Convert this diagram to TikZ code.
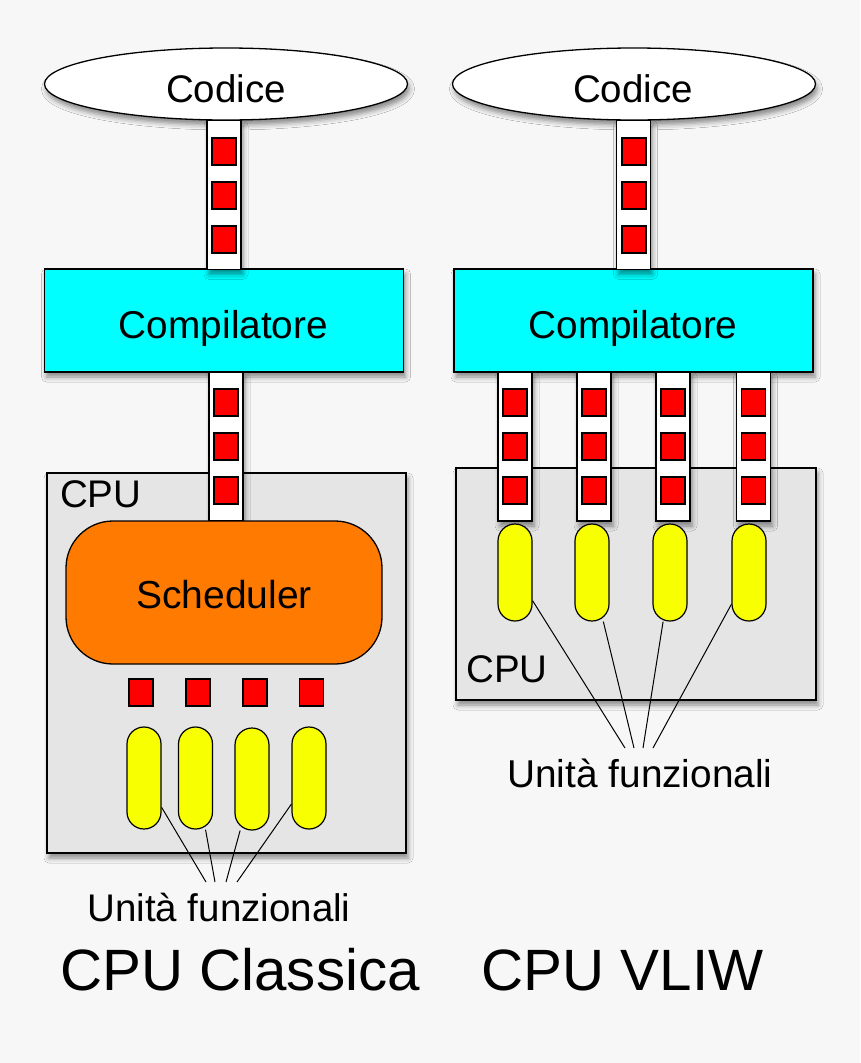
\documentclass[tikz,border=0pt]{standalone}
\usepackage{fontspec}
\setmainfont{Liberation Sans}
\usetikzlibrary{shapes.geometric,shadows.blur}
\definecolor{bgc}{HTML}{F7F7F7}
\definecolor{cpugray}{HTML}{E5E5E5}
\definecolor{cyanc}{HTML}{00FFFF}
\definecolor{orangec}{HTML}{FF7A00}
\definecolor{redc}{HTML}{FF0000}
\definecolor{yellowc}{HTML}{F8FF00}
\newcommand\myfs[1]{\fontsize{#1}{#1}\selectfont}
\tikzset{
  shad/.style={blur shadow={shadow xshift=2pt,shadow yshift=-5pt,shadow blur radius=5pt,shadow opacity=45}},
  codebox/.style={ellipse,draw,fill=white,line width=1.3pt,minimum width=363,minimum height=72,inner sep=0,shad},
  compbox/.style={rectangle,draw,fill=cyanc,line width=1.3pt,minimum width=359,minimum height=103,inner sep=0,shad},
  cpubox/.style={rectangle,draw,fill=cpugray,line width=1.3pt,inner sep=0,shad},
  strip/.style={rectangle,draw,fill=white,line width=1.3pt,minimum width=34,minimum height=149,inner sep=0,shad},
  instr/.style={rectangle,draw,fill=redc,line width=1.1pt,minimum width=24,minimum height=27,inner sep=0},
  sched/.style={rectangle,draw,fill=orangec,line width=1.3pt,rounded corners=47pt,minimum width=316,minimum height=143,inner sep=0},
  unit/.style={rectangle,draw,fill=yellowc,line width=1.2pt,rounded corners=17pt,minimum width=34,minimum height=102,inner sep=0},
  fline/.style={line width=1pt},
  lbl/.style={anchor=base,inner sep=0},
}
\begin{document}
\begin{tikzpicture}[x=1pt,y=-1pt]
\useasboundingbox (0,0) rectangle (860,1063);
\fill[bgc] (0,0) rectangle (860,1063);

% ---------- left: CPU classica ----------
\node[codebox] (codL) at (226,84) {};
\node[compbox] (compL) at (224,320.5) {};
\node[cpubox,minimum width=359,minimum height=380] (cpuL) at (226.5,663) {};
\node[strip] (sL1) at (224,195) {};
\node[strip] (sL2) at (226,446.5) {};
\node[instr] (qL11) at (224,151.5) {};
\node[instr] (qL12) at (224,195.5) {};
\node[instr] (qL13) at (224,239.5) {};
\node[instr] (qL21) at (226,402.5) {};
\node[instr] (qL22) at (226,446.5) {};
\node[instr] (qL23) at (226,490.5) {};
\node[sched] (schL) at (224,592.5) {};
\node[instr] (pL1) at (141,692.5) {};
\node[instr] (pL2) at (198,692.5) {};
\node[instr] (pL3) at (255,692.5) {};
\node[instr] (pL4) at (311.5,692.5) {};
\node[unit] (uL1) at (144,778) {};
\node[unit] (uL2) at (195.5,778) {};
\node[unit] (uL3) at (252,779) {};
\node[unit] (uL4) at (309,778) {};
\coordinate (eL1) at (206,882);
\coordinate (eL2) at (215,882);
\coordinate (eL3) at (226,882);
\coordinate (eL4) at (237,882);
\draw[fline] (uL1.-59) -- (eL1);
\draw[fline] (uL2.-79) -- (eL2);
\draw[fline] (uL3.-103) -- (eL3);
\draw[fline] (uL4.-124) -- (eL4);

\node[lbl] (tcodL) at (226,102) {\myfs{38.5}Codice};
\node[lbl] (tcompL) at (223.5,338) {\myfs{38.8}Compilatore};
\node[lbl,anchor=base west] (tcpuL) at (60,507) {\myfs{38.5}CPU};
\node[lbl] (tschL) at (224,608) {\myfs{39}Scheduler};
\node[lbl] (tunL) at (219,921) {\myfs{38.5}Unità funzionali};
\node[lbl] (titL) at (240,990) {\myfs{58.3}CPU Classica};

% ---------- right: CPU VLIW ----------
\node[codebox] (codR) at (634,84) {};
\node[compbox] (compR) at (633.5,320.5) {};
\node[cpubox,minimum width=360,minimum height=232] (cpuR) at (636,584) {};
\node[strip] (sR0) at (633.5,195) {};
\node[instr] (qR01) at (634,151.5) {};
\node[instr] (qR02) at (634,195.5) {};
\node[instr] (qR03) at (634,239.5) {};
\node[strip] (sR1) at (515,446.5) {};
\node[strip] (sR2) at (594,446.5) {};
\node[strip] (sR3) at (673,446.5) {};
\node[strip] (sR4) at (753.5,446.5) {};
\foreach \c/\n in {515/1,594/2,673/3,753.5/4}{
  \node[instr] (qR\n1) at (\c,402.5) {};
  \node[instr] (qR\n2) at (\c,446.5) {};
  \node[instr] (qR\n3) at (\c,490.5) {};
}
\node[unit,minimum height=97] (uR1) at (515,572.5) {};
\node[unit,minimum height=97] (uR2) at (592,572.5) {};
\node[unit,minimum height=97] (uR3) at (670,572.5) {};
\node[unit,minimum height=97] (uR4) at (749,572.5) {};
\coordinate (eR1) at (625,748);
\coordinate (eR2) at (634,748);
\coordinate (eR3) at (643,748);
\coordinate (eR4) at (653,748);
\draw[fline] (uR1.-58) -- (eR1);
\draw[fline] (uR2.-77) -- (eR2);
\draw[fline] (uR3.-98) -- (eR3);
\draw[fline] (uR4.-119) -- (eR4);

\node[lbl] (tcodR) at (633,102) {\myfs{38.5}Codice};
\node[lbl] (tcompR) at (633,338) {\myfs{38.8}Compilatore};
\node[lbl,anchor=base west] (tcpuR) at (466,682) {\myfs{38.5}CPU};
\node[lbl] (tunR) at (640,787) {\myfs{38.8}Unità funzionali};
\node[lbl] (titR) at (622.5,990) {\myfs{58.3}CPU VLIW};
\end{tikzpicture}
\end{document}
